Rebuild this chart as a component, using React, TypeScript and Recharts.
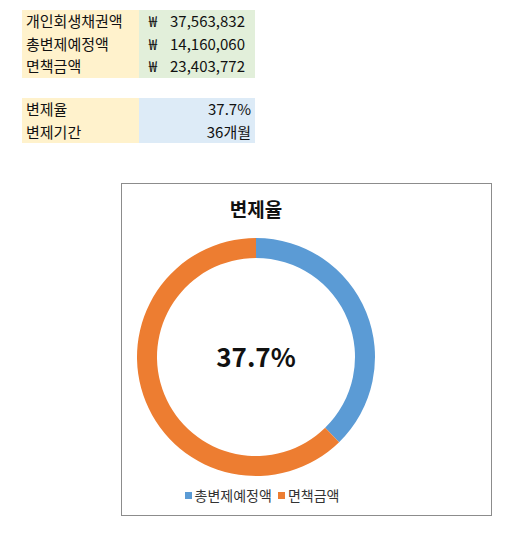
import { PieChart, Pie, Cell, Legend } from 'recharts';

const summaryLabels = ['개인회생채권액', '총변제예정액', '면책금액'];
const summaryAmounts = ['37,563,832', '14,160,060', '23,403,772'];
const rateLabels = ['변제율', '변제기간'];
const rateValues = ['37.7%', '36개월'];

const sliceNames = ['총변제예정액', '면책금액'];
const sliceValues = [14160060, 23403772];
const sliceColors = ['#5B9BD5', '#ED7D31'];
const centerLabel = '37.7%';
const chartTitle = '변제율';

const font = '"Noto Sans CJK KR", "Noto Sans", sans-serif';

function LegendBox() {
    return (
        <div style={{ display: 'flex', justifyContent: 'center', gap: 6, fontSize: 14, fontFamily: font, color: '#333', lineHeight: '18px' }}>
            {sliceNames.map((name, i) => (
                <span key={name} style={{ display: 'flex', alignItems: 'center' }}>
                    <span style={{ width: 7, height: 7, background: sliceColors[i], marginRight: 3, display: 'inline-block' }} />
                    {name}
                </span>
            ))}
        </div>
    );
}

export default function App() {
    const data = sliceNames.map((name, i) => ({ name, value: sliceValues[i] }));
    const rowH = 22.5;

    return (
        <div style={{ position: 'absolute', left: 0, top: 0, width: 517, height: 545, background: '#fff', fontFamily: font, color: '#111' }}>
            {summaryLabels.map((label, i) => (
                <div key={label} style={{ position: 'absolute', left: 22, top: 10 + i * rowH, height: rowH, width: 233, display: 'flex', fontSize: 15, lineHeight: `${rowH}px` }}>
                    <div style={{ width: 115, background: '#FFF2CC', paddingLeft: 4 }}>{label}</div>
                    <div style={{ width: 118, background: '#E2EFDA', display: 'flex', justifyContent: 'space-between', paddingLeft: 10, paddingRight: 10, boxSizing: 'border-box' }}>
                        <span>₩</span><span>{summaryAmounts[i]}</span>
                    </div>
                </div>
            ))}
            {rateLabels.map((label, i) => (
                <div key={label} style={{ position: 'absolute', left: 22, top: 98 + i * rowH, height: rowH, width: 233, display: 'flex', fontSize: 15, lineHeight: `${rowH}px` }}>
                    <div style={{ width: 115, background: '#FFF2CC', paddingLeft: 4 }}>{label}</div>
                    <div style={{ width: 118, background: '#DDEBF7', textAlign: 'right', paddingRight: 4, boxSizing: 'border-box' }}>{rateValues[i]}</div>
                </div>
            ))}
            <div style={{ position: 'absolute', left: 121, top: 183, width: 371, height: 333, boxSizing: 'border-box', border: '1px solid #8c8c8c' }}>
                <PieChart width={369} height={331}>
                    <text x={134} y={24} textAnchor="middle" dominantBaseline="central" fontSize={19} fontWeight="bold" fill="#111" fontFamily={font}>{chartTitle}</text>
                    <Pie data={data} dataKey="value" nameKey="name" cx={129} cy={168} innerRadius={99} outerRadius={119} startAngle={90} endAngle={-270} stroke="none" isAnimationActive={false}>
                        {data.map((_, i) => <Cell key={i} fill={sliceColors[i]} />)}
                    </Pie>
                    <text x={134} y={171} textAnchor="middle" dominantBaseline="central" fontSize={26} fontWeight="bold" fill="#111" fontFamily={font}>{centerLabel}</text>
                    <Legend content={() => <LegendBox />} wrapperStyle={{ top: 302, left: 0, width: 280 }} />
                </PieChart>
            </div>
        </div>
    );
}
